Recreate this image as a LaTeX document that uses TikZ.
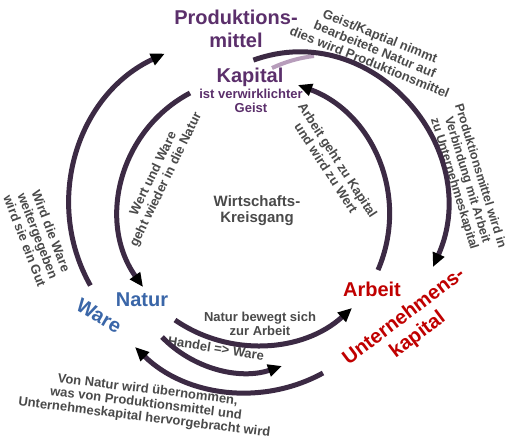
\documentclass[tikz,border=0pt]{standalone}
\usepackage{fontspec}
\setmainfont{Liberation Sans}
\usetikzlibrary{arrows.meta}
\definecolor{arccol}{HTML}{3C2A44}
\definecolor{purp}{HTML}{5B2F6B}
\definecolor{bluet}{HTML}{3A66A8}
\definecolor{redt}{HTML}{C00000}
\definecolor{grayt}{HTML}{4A4A4A}
\definecolor{lightp}{HTML}{B79DBB}
\begin{document}
\begin{tikzpicture}[x=1pt,y=-1pt,
  flow/.style={line width=5pt, draw=arccol, -{Triangle[length=14pt,width=12pt,color=black]}},
  big/.style={font=\bfseries\fontsize{20}{23}\selectfont, inner sep=0pt, align=center},
  mid/.style={font=\bfseries\fontsize{15}{16}\selectfont, inner sep=0pt, align=center, text=grayt},
  small/.style={font=\bfseries\fontsize{13}{14}\selectfont, inner sep=0pt, align=center},
  note/.style={small, text=grayt}]
\useasboundingbox (0,0) rectangle (509,440);
\fill[white] (0,0) rectangle (509,440);

% concept labels
\node[big, text=purp] (prod) at (236,29) {Produktions-\\mittel};
\node[big, text=purp] (kap) at (250,77) {Kapital};
\node[small, text=purp] (kapsub) at (251,101) {ist verwirklichter\\Geist};
\node[mid] (kreis) at (257,211) {Wirtschafts-\\Kreisgang};
\node[big, text=bluet] (natur) at (142,300) {Natur};
\node[big, text=bluet, rotate=-30] (ware) at (99,316) {Ware};
\node[big, text=redt] (arbeit) at (372,289) {Arbeit};
\node[big, text=redt, rotate=37] (uk) at (411,326) {Unternehmens-\\kapital};

% notes
\node[note, rotate=-22] (n1) at (375,49) {Geist/Kaptial nimmt\\bearbeitete Natur auf\\dies wird Produktionsmittel};
\node[note, rotate=-73, font=\bfseries\fontsize{12.5}{13.5}\selectfont] (n2) at (467,180) {Produktionsmittel wird in\\Verbindung mit Arbeit\\zu Unternehmeskapital};
\node[note, rotate=-57] (n3) at (332,164) {Arbeit geht zu Kapital\\und wird zu Wert};
\node[note, rotate=64] (n4) at (160,177) {Wert und Ware\\geht wieder in die Natur};
\node[note, rotate=-69] (n5) at (38,236) {Wird die Ware\\weitergegeben\\wird sie ein Gut};
\node[note] (n6) at (260,324) {Natur bewegt sich\\zur Arbeit};
\node[note, rotate=-9] (n7) at (216,348) {Handel => Ware};
\node[note, rotate=-7] (n8) at (146,404) {Von Natur wird übernommen,\\was von Produktionsmittel und\\Unternehmeskapital hervorgebracht wird};

% connector end points
\coordinate (a1) at (90.4,285.5);  \coordinate (b1) at (164.8,53.6);
\coordinate (a2) at (253.4,60.1);  \coordinate (b2) at (433,267);
\coordinate (a3) at (378,270);     \coordinate (b3) at (298,85);
\coordinate (a4) at (190,93);      \coordinate (b4) at (143,287);
\coordinate (a5) at (175,320);     \coordinate (b5) at (352,308);
\coordinate (a6) at (162,337);     \coordinate (b6) at (282,366);
\coordinate (a7) at (323,373);     \coordinate (b7) at (135,347);
\coordinate (la) at (272,68);      \coordinate (lb) at (314,56);

% connectors
\draw[line width=4pt, draw=lightp] (la) .. controls (285,62) and (298,58) .. (lb);
\draw[flow] (a1) .. controls (42.9,201.3) and (77.2,94.5) .. (b1);
\draw[flow] (a2) .. controls (373,17) and (485,150) .. (b2);
\draw[flow] (a3) .. controls (409.7,196.3) and (373.2,112.8) .. (b3);
\draw[flow] (a4) .. controls (119.2,130.5) and (96.8,221.6) .. (b4);
\draw[flow] (a5) .. controls (229.7,357.6) and (302.8,352.6) .. (b5);
\draw[flow] (a6) .. controls (193,369) and (239.8,380.3) .. (b6);
\draw[flow] (a7) .. controls (261.4,406.7) and (185.2,396.1) .. (b7);
\end{tikzpicture}
\end{document}
